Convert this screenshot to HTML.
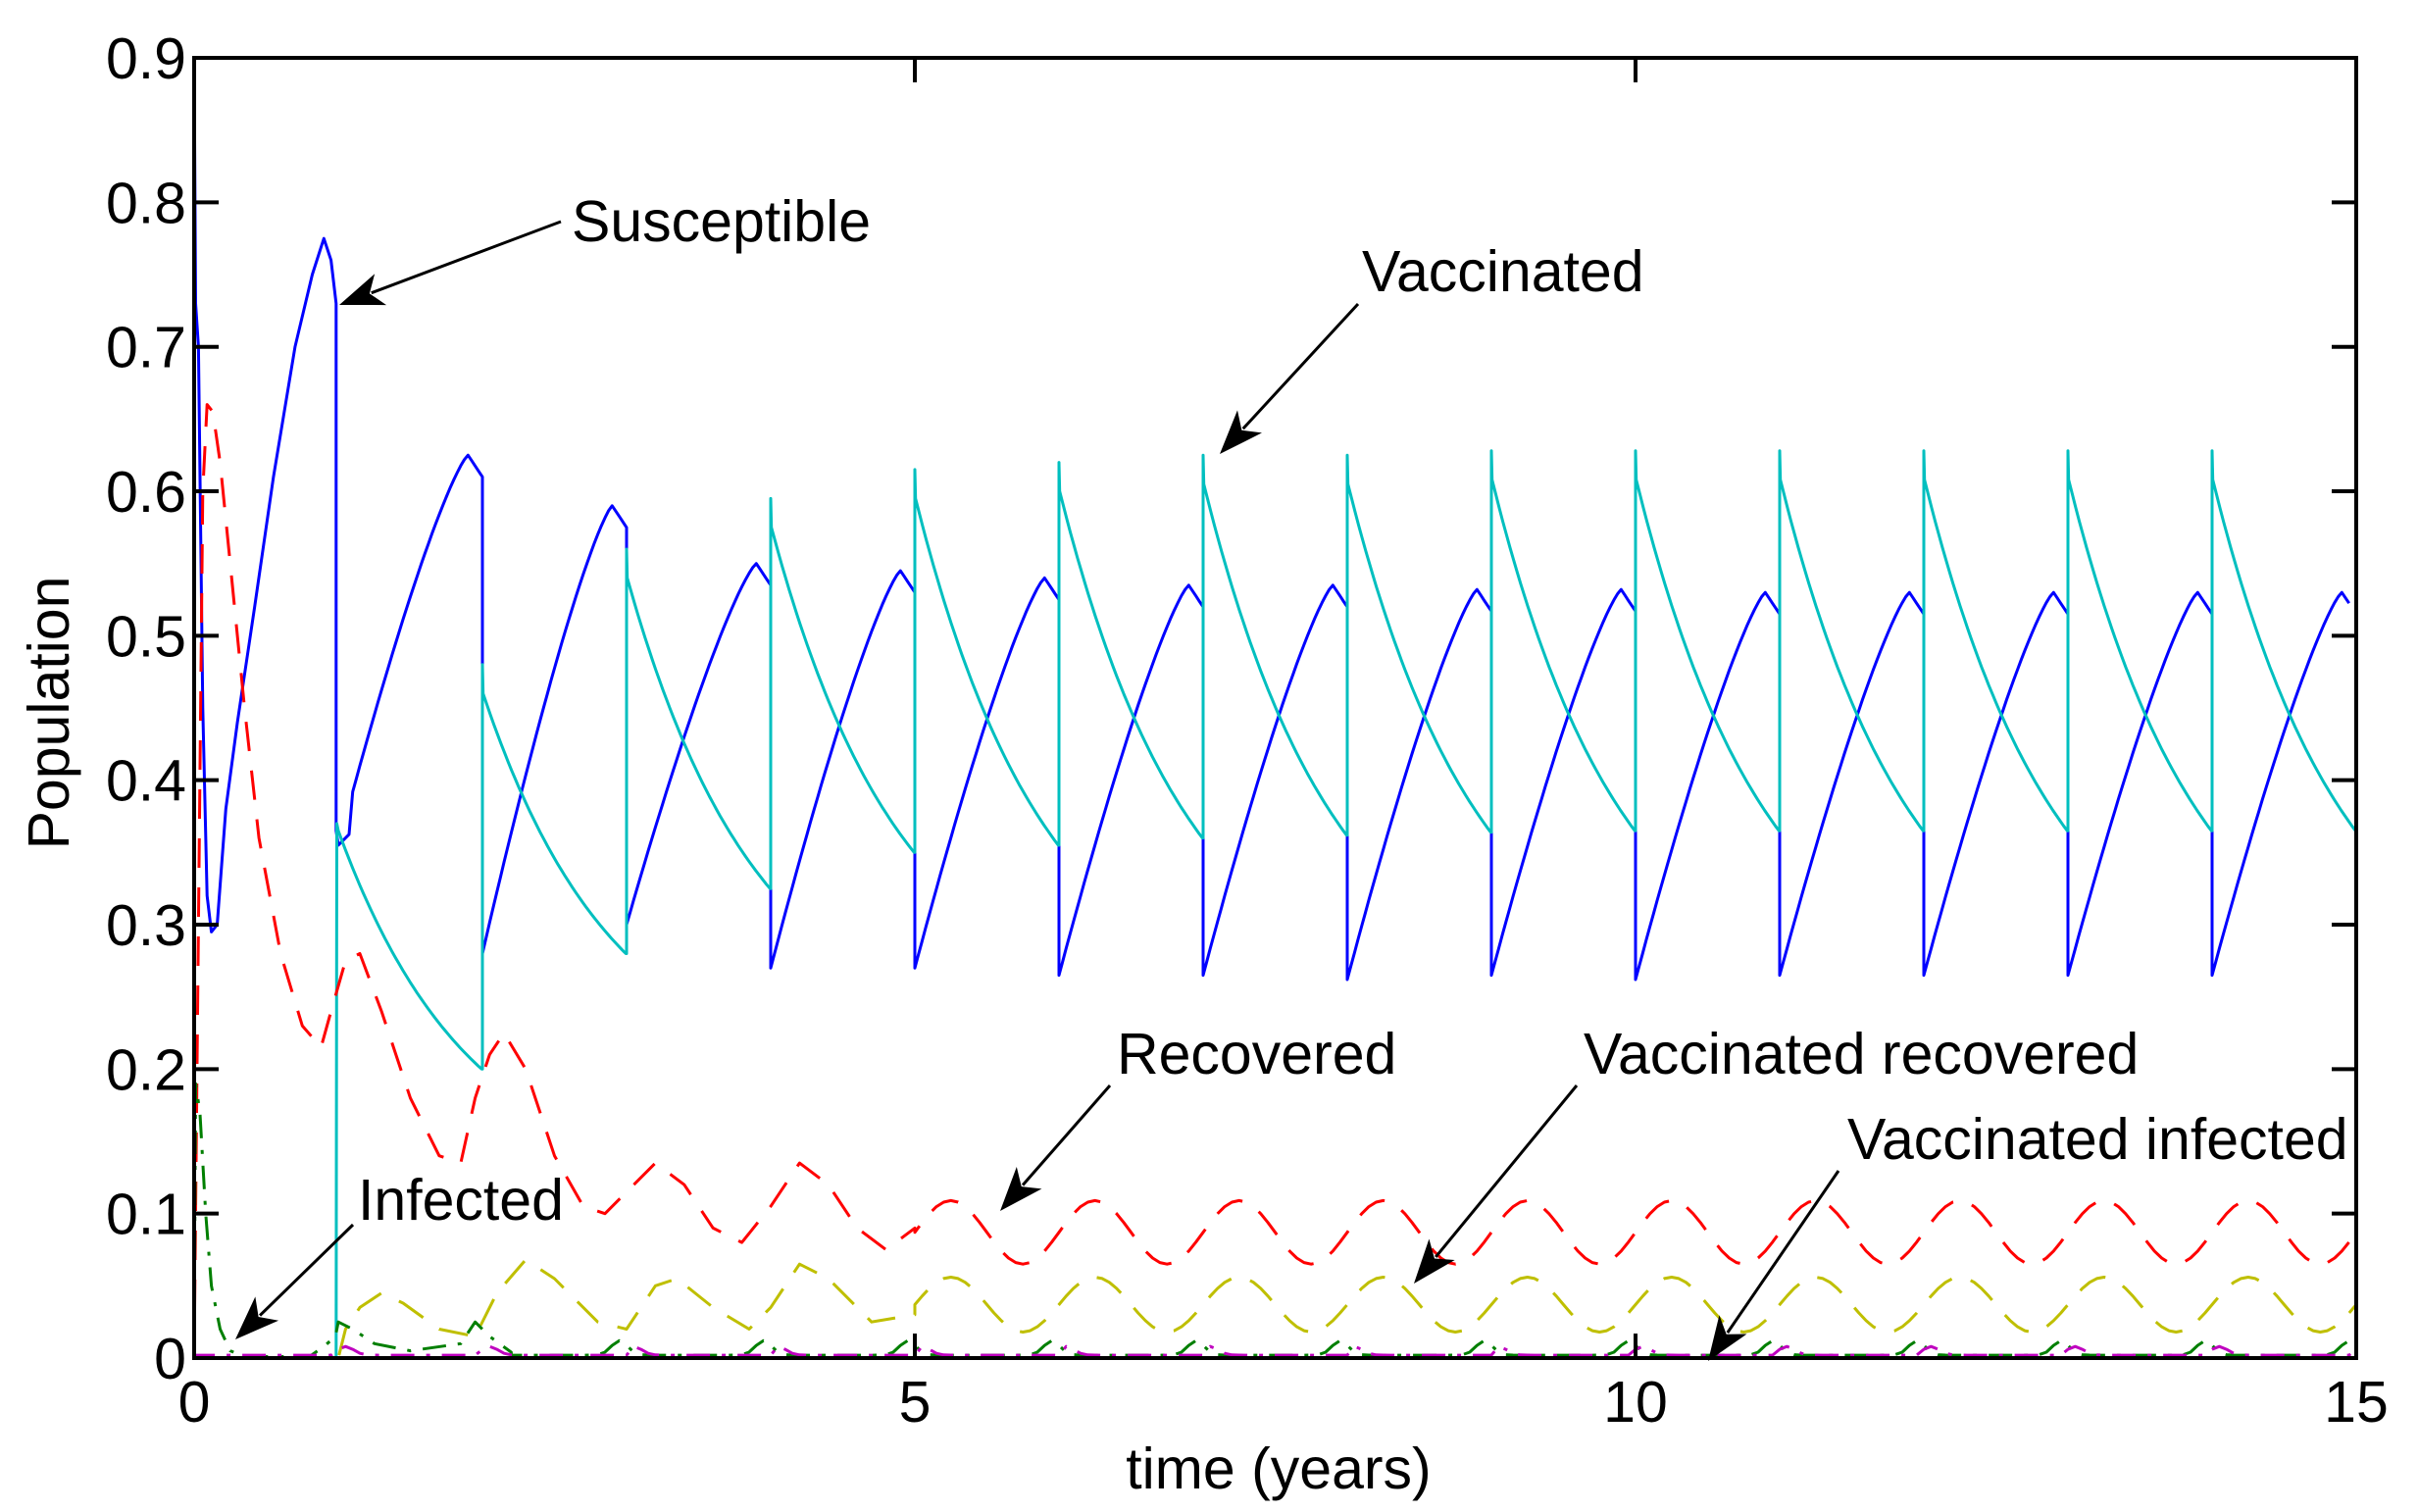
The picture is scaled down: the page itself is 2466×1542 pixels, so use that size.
<!DOCTYPE html>
<html><head><meta charset="utf-8">
<style>
html,body{margin:0;padding:0;background:#fff;}
svg{display:block;}
text{font-family:"Liberation Sans",Arial,sans-serif;fill:#000;}
</style></head>
<body>
<svg id="s" width="2466" height="1542" viewBox="0 0 2466 1542" xmlns="http://www.w3.org/2000/svg">
<rect width="2466" height="1542" fill="#fff"/>
<g id="series" fill="none" stroke-width="3" stroke-linejoin="round"></g>
<g stroke="#000" stroke-width="4" fill="none">
<rect x="198" y="59" width="2205" height="1326"/>
</g>
<g id="ticks" stroke="#000" stroke-width="4"></g>
<g font-size="59" text-anchor="end" id="ylab"></g>
<g font-size="59" text-anchor="middle">
<text x="198" y="1450">0</text><text x="933" y="1450">5</text><text x="1668" y="1450">10</text><text x="2403" y="1450">15</text>
<text x="1304" y="1518">time (years)</text>
<text transform="translate(70,727) rotate(-90)">Population</text>
</g>
<g font-size="59">
<text x="583" y="246">Susceptible</text>
<text x="1389" y="297">Vaccinated</text>
<text x="1139" y="1095">Recovered</text>
<text x="1615" y="1095">Vaccinated recovered</text>
<text x="1884" y="1182">Vaccinated infected</text>
<text x="365" y="1244">Infected</text>
</g>
<g id="arrows" stroke="#000" stroke-width="3" fill="#000"></g>
</svg>
<script>
var NS="http://www.w3.org/2000/svg";
function X(t){return 198+147*t;}
function Y(v){return 1385-1473.3*v;}
function el(p,tag,a){var e=document.createElementNS(NS,tag);for(var k in a)e.setAttribute(k,a[k]);p.appendChild(e);return e;}
var ticks=document.getElementById('ticks'),yl=document.getElementById('ylab');
for(var i=0;i<=9;i++){var y=Y(i/10);
 el(ticks,'line',{x1:198,y1:y,x2:223,y2:y});el(ticks,'line',{x1:2403,y1:y,x2:2378,y2:y});
 var t=el(yl,'text',{x:190,y:y+21});t.textContent=(i==0?'0':(i/10).toFixed(1));}
[0,5,10,15].forEach(function(k){var x=X(k);el(ticks,'line',{x1:x,y1:1385,x2:x,y2:1360});el(ticks,'line',{x1:x,y1:59,x2:x,y2:84});});
var g=document.getElementById('series');
function path(pts,color,dash){var d='';pts.forEach(function(p,i){d+=(i?'L':'M')+X(p[0]).toFixed(1)+','+Y(p[1]).toFixed(1);});
 var a={d:d,stroke:color};if(dash)a['stroke-dasharray']=dash;el(g,'path',a);}
var segs=[[1,0.355,0.625],[2,0.28,0.59],[3,0.30,0.55],[4,0.27,0.545],[5,0.27,0.54],[6,0.265,0.535],[7,0.265,0.535],[8,0.262,0.532],[9,0.265,0.532],[10,0.262,0.53],[11,0.265,0.53],[12,0.265,0.53],[13,0.265,0.53],[14,0.265,0.53]];
var S=[];S.push([0,0.9],[0.01,0.73],[0.03,0.70],[0.06,0.45],[0.09,0.32],[0.12,0.295],[0.16,0.3],[0.22,0.38],[0.3,0.44],[0.42,0.52],[0.55,0.61],[0.7,0.7],[0.82,0.75],[0.9,0.775],[0.95,0.76],[0.985,0.73],[0.985,0.365]);
segs.forEach(function(s,idx){var n=s[0],lo=s[1],hi=s[2];
 for(var k=0;k<=40;k++){var tau=k/40;var v;
  if(tau<=0.9){var u=tau/0.9;v=lo+(hi-lo)*(1-Math.pow(1-u,1.25));if(n==1&&tau<0.1)v=lo+(tau*0.1);}
  else{v=hi-(tau-0.9)/0.1*0.015;}
  if(n==14&&tau>0.97)break;
  S.push([n+tau,v]);}
 if(n<14){var nl=segs[idx+1][1];S.push([n+1,nl]);}
});
path(S,'#0000ff');
var V=[[0,0],[0.985,0],[0.99,0.37]];
var vs=[[1,0.365,0.2],[2,0.48,0.28],[3,0.56,0.325],[4,0.595,0.35],[5,0.615,0.355],[6,0.62,0.36],[7,0.625,0.362],[8,0.625,0.364],[9,0.628,0.365],[10,0.628,0.365],[11,0.628,0.365],[12,0.628,0.365],[13,0.628,0.365],[14,0.628,0.365]];
vs.forEach(function(s){var n=s[0],hi=s[1],lo=s[2],kk=1.1;
 if(n>1){V.push([n,V[V.length-1][1]]);V.push([n,hi]);hi=hi-0.02;}
 for(var k=0;k<=40;k++){var tau=k/40;var e=(Math.exp(-kk*tau)-Math.exp(-kk))/(1-Math.exp(-kk));
  V.push([n+(n==1?0:0.005)+tau*(n==1?0.995:0.99),lo+(hi-lo)*e]);}
});
path(V,'#00bfbf');
var R=[[0,0],[0.03,0.3],[0.06,0.6],[0.09,0.66],[0.13,0.655],[0.18,0.62],[0.25,0.55],[0.35,0.45],[0.45,0.36],[0.6,0.28],[0.75,0.23],[0.88,0.215],[0.95,0.24],[1.05,0.275],[1.15,0.28],[1.3,0.24],[1.5,0.18],[1.7,0.14],[1.85,0.135],[1.95,0.18],[2.05,0.21],[2.15,0.225],[2.3,0.2],[2.5,0.14],[2.7,0.105],[2.85,0.1],[3.0,0.115],[3.2,0.135],[3.4,0.12],[3.6,0.09],[3.8,0.08],[4.0,0.105],[4.2,0.135],[4.4,0.12],[4.6,0.09],[4.8,0.075],[5.0,0.09]];
for(var t=5.0;t<=15.001;t+=0.05){var ph=(t-5.25)*2*Math.PI;R.push([t,0.087+0.022*Math.cos(ph)]);}
path(R,'#ff0000','30 20');
var VR=[[0,0],[1.0,0],[1.05,0.02],[1.15,0.035],[1.3,0.045],[1.45,0.038],[1.7,0.02],[1.95,0.015],[2.1,0.045],[2.3,0.068],[2.5,0.055],[2.8,0.025],[3.0,0.02],[3.2,0.05],[3.35,0.055],[3.6,0.035],[3.85,0.02],[4.0,0.035],[4.2,0.065],[4.4,0.055],[4.7,0.025],[5.0,0.03]];
for(var t=5.0;t<=15.001;t+=0.05){var ph=(t-5.25)*2*Math.PI;VR.push([t,0.037+0.019*Math.cos(ph)]);}
path(VR,'#bfbf00','30 20');
var I=[[0,0],[0.01,0.19],[0.04,0.17],[0.08,0.1],[0.12,0.05],[0.18,0.02],[0.25,0.005],[0.35,0.001],[0.8,0.001],[0.9,0.008],[0.98,0.015],[1.0,0.025],[1.1,0.02],[1.25,0.01],[1.5,0.005],[1.85,0.01],[1.95,0.025],[2.05,0.015],[2.2,0.004]];
for(var t=2.2;t<=15.001;t+=0.05){var f=t-Math.floor(t);var b=Math.exp(-Math.pow((f-0.95)/0.08,2))+Math.exp(-Math.pow((f+0.05)/0.08,2));I.push([t,0.002+0.01*b]);}
path(I,'#007f00','24 12 4 12');
var M=[[0,0]];
for(var t=0;t<=15.001;t+=0.05){var f=t-Math.floor(t);var b=t<1?0:Math.exp(-Math.pow((f-0.05)/0.08,2));M.push([t,0.002+0.006*b]);}
path(M,'#bf00bf','24 12 4 12');
var ar=document.getElementById('arrows');
function arrow(x1,y1,x2,y2){var dx=x2-x1,dy=y2-y1,L=Math.hypot(dx,dy),ux=dx/L,uy=dy/L,px=-uy,py=ux,h=45,w=17;
 var bx=x2-ux*h,by=y2-uy*h;
 el(ar,'line',{x1:x1,y1:y1,x2:bx+ux*10,y2:by+uy*10});
 el(ar,'polygon',{points:x2+','+y2+' '+(bx+px*w)+','+(by+py*w)+' '+(bx+ux*12)+','+(by+uy*12)+' '+(bx-px*w)+','+(by-py*w),stroke:'none'});}
arrow(572,226,346,311);
arrow(1385,310,1244,463);
arrow(1132,1107,1020,1235);
arrow(1608,1107,1442,1309);
arrow(1875,1194,1742,1388);
arrow(360,1249,240,1366);
</script>
</body></html>
